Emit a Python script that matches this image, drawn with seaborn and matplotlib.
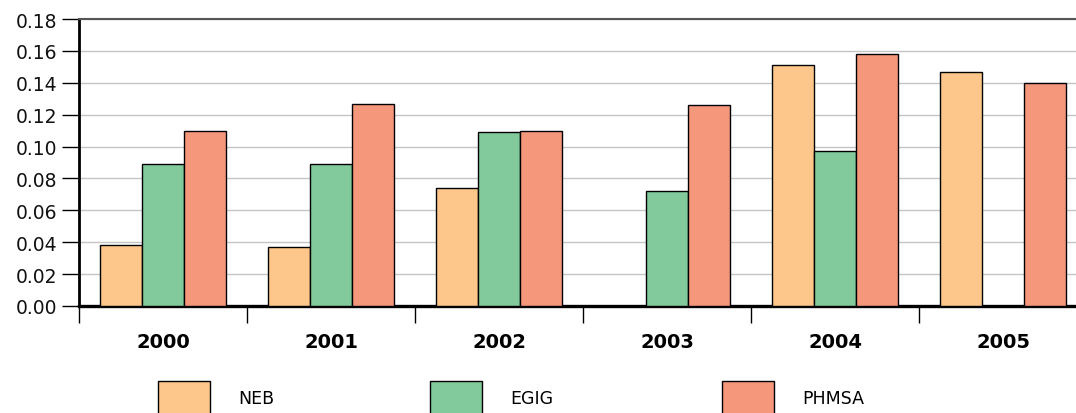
import matplotlib.pyplot as plt
import matplotlib.patches as mpatches
import numpy as np
import pandas as pd
import seaborn as sns
from matplotlib.ticker import FixedLocator

YEARS = ["2000", "2001", "2002", "2003", "2004", "2005"]
SOURCES = ["NEB", "EGIG", "PHMSA"]
NEB = [0.038, 0.037, 0.074, np.nan, 0.151, 0.147]
EGIG = [0.089, 0.089, 0.109, 0.072, 0.097, np.nan]
PHMSA = [0.110, 0.127, 0.110, 0.126, 0.158, 0.140]
COLORS = ["#FDC68A", "#82C99C", "#F4977A"]
LEGEND_X = [158, 430, 722]  # left edge of each legend swatch, pixels

# Long-form table for seaborn
df = pd.DataFrame({
    "year": YEARS * 3,
    "source": [s for s in SOURCES for _ in YEARS],
    "rate": NEB + EGIG + PHMSA,
})

sns.set_theme(style="white")
plt.rcParams["font.family"] = ["DejaVu Sans"]
plt.rcParams["text.color"] = "black"

W, H = 1076, 414
fig = plt.figure(figsize=(W / 100, H / 100), dpi=100)
ax = fig.add_axes([79 / W, 107 / H, 1008 / W, 287 / H])

sns.barplot(
    data=df, x="year", y="rate", hue="source",
    order=YEARS, hue_order=SOURCES, palette=COLORS, saturation=1,
    width=0.75, edgecolor="black", linewidth=1.0,
    errorbar=None, ax=ax, legend=False, zorder=3,
)

ax.set_xlim(-0.5, 5.5)
ax.set_ylim(0, 0.18)
ticks = np.arange(0, 0.181, 0.02)
ax.set_yticks(ticks)
ax.set_yticklabels([f"{v:.2f}" for v in ticks], fontsize=13.5, color="#111111")
ax.yaxis.grid(True, color="#c4c4c4", linewidth=1.0, zorder=0)
ax.set_axisbelow(True)

# Year labels centred, tick marks on category boundaries
ax.set_xticks(range(len(YEARS)))
ax.set_xticklabels(YEARS, fontsize=14, fontweight="bold", color="black")
ax.xaxis.set_minor_locator(FixedLocator(np.arange(-0.5, 6.0, 1.0)))
ax.tick_params(axis="x", which="major", length=0, pad=19)
ax.tick_params(axis="x", which="minor", length=12.5, width=1.0, color="black", direction="out", bottom=True)
ax.tick_params(axis="y", length=12.5, width=1.0, color="black", direction="out", left=True, pad=3)

ax.set_xlabel("")
ax.set_ylabel("")

ax.spines["right"].set_visible(False)
ax.spines["left"].set_linewidth(2.0)
ax.spines["left"].set_color("black")
ax.spines["bottom"].set_linewidth(2.4)
ax.spines["bottom"].set_color("black")
ax.spines["top"].set_linewidth(1.5)
ax.spines["top"].set_color("#555555")

# One legend per entry so each swatch sits where it does in the original
for color, label, x in zip(COLORS, SOURCES, LEGEND_X):
    patch = mpatches.Patch(facecolor=color, edgecolor="black", linewidth=1.0)
    fig.legend(
        [patch], [label], loc="center left", bbox_to_anchor=(x / W, 15 / H),
        frameon=False, fontsize=12.5, borderpad=0, borderaxespad=0,
        handlelength=3.0, handleheight=2.6, handletextpad=1.6,
    )

plt.savefig("out.png", dpi=100)
